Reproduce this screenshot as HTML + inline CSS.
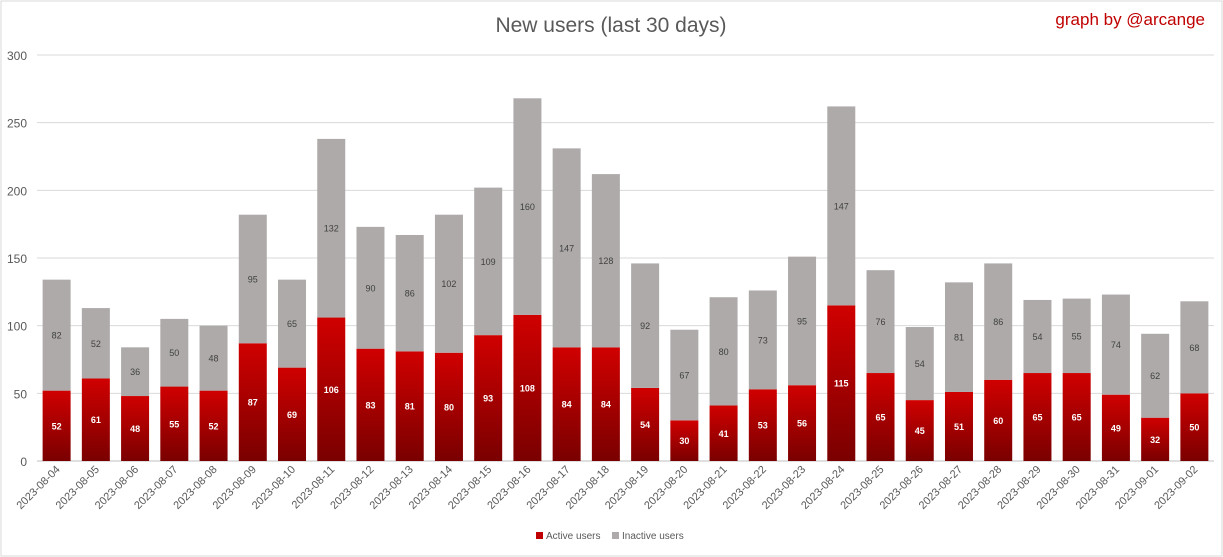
<!DOCTYPE html>
<html><head><meta charset="utf-8"><style>
body{margin:0;background:#fff;}
svg{display:block;font-family:"Liberation Sans",sans-serif;}
</style></head><body>
<svg id="c" width="1223" height="557">
<defs><linearGradient id="rg" x1="0" y1="0" x2="0" y2="1"><stop offset="0" stop-color="#d00000"/><stop offset="1" stop-color="#7a0000"/></linearGradient></defs>
<rect x="1" y="1" width="1221" height="555" fill="#fff" stroke="#d9d9d9"/>
<text x="611" y="32" font-size="21" fill="#595959" text-anchor="middle">New users (last 30 days)</text>
<text x="1205" y="25" font-size="17" fill="#c00000" text-anchor="end">graph by @arcange</text>
<g id="grid"></g><g id="bars"></g><g id="xl"></g>
<g>
<rect x="536" y="532" width="7" height="7" fill="#c00000"/>
<text x="546" y="539" font-size="10" fill="#595959">Active users</text>
<rect x="612" y="532" width="7" height="7" fill="#aeaaaa"/>
<text x="622" y="539" font-size="10" fill="#595959">Inactive users</text>
</g>
</svg>
<script>
const dates=["2023-08-04","2023-08-05","2023-08-06","2023-08-07","2023-08-08","2023-08-09","2023-08-10","2023-08-11","2023-08-12","2023-08-13","2023-08-14","2023-08-15","2023-08-16","2023-08-17","2023-08-18","2023-08-19","2023-08-20","2023-08-21","2023-08-22","2023-08-23","2023-08-24","2023-08-25","2023-08-26","2023-08-27","2023-08-28","2023-08-29","2023-08-30","2023-08-31","2023-09-01","2023-09-02"];
const active=[52,61,48,55,52,87,69,106,83,81,80,93,108,84,84,54,30,41,53,56,115,65,45,51,60,65,65,49,32,50];
const inactive=[82,52,36,50,48,95,65,132,90,86,102,109,160,147,128,92,67,80,73,95,147,76,54,81,86,54,55,74,62,68];
const yTicks=[0,50,100,150,200,250,300];
const NS="http://www.w3.org/2000/svg";
const x0=37,x1=1214,y0=461,y300=55;
const y=v=>y0-(v/300)*(y0-y300);
const step=(x1-x0)/dates.length;
const xc=i=>x0+step*(i+0.5);
function mk(t,a,p){const e=document.createElementNS(NS,t);for(const k in a)e.setAttribute(k,a[k]);p.appendChild(e);return e;}
const grid=document.getElementById('grid'),bars=document.getElementById('bars'),xl=document.getElementById('xl');
yTicks.forEach(v=>{
 const l=mk('line',{x1:x0,x2:x1,y1:y(v),y2:y(v),stroke:v?'#d9d9d9':'#bfbfbf'},grid);
 
 
 const t=mk('text',{x:27,y:y(v)+5,'font-size':12,fill:'#595959','text-anchor':'end'},grid);
 t.textContent=v;
 
 
});
const bw=28;
dates.forEach((d,i)=>{
 const cx=xc(i),a=active[i],n=inactive[i];
 const r=mk('rect',{x:cx-bw/2,y:y(a),width:bw,height:y0-y(a),fill:'url(#rg)'},bars);
 
 
 const g=mk('rect',{x:cx-bw/2,y:y(a+n),width:bw,height:y(a)-y(a+n),fill:'#aeaaaa'},bars);
 
 
 const ta=mk('text',{x:cx,y:(y(a)+y0)/2+3.5,'font-size':9,'font-weight':'bold',fill:'#fff','text-anchor':'middle'},bars);
 ta.textContent=a;
 
 
 const tn=mk('text',{x:cx,y:(y(a)+y(a+n))/2+3.5,'font-size':9,fill:'#404040','text-anchor':'middle'},bars);
 tn.textContent=n;
 
 
 const t=mk('text',{x:cx+4,y:470,'font-size':11,fill:'#595959','text-anchor':'end',transform:`rotate(-45 ${cx+4} 470)`},xl);
 t.textContent=d;
 
 
});
</script>
</body></html>
